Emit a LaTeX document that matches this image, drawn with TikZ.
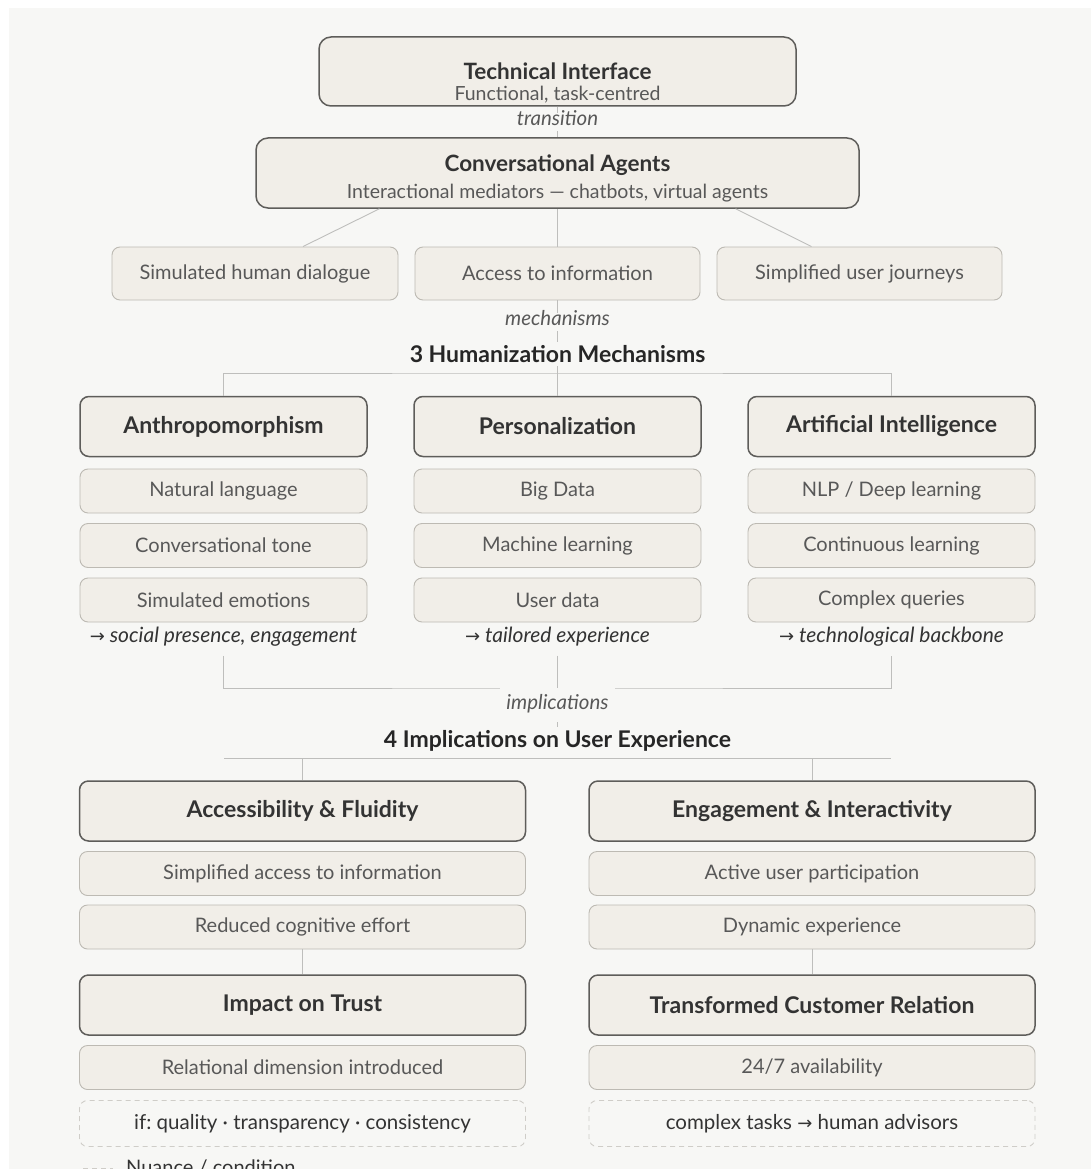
\documentclass[tikz,border=0pt]{standalone}
\usepackage{fontspec}
\setmainfont{Lato}
\newfontfamily\arrowfont{DejaVu Sans}
\usepackage{xcolor}
\usetikzlibrary{calc}
\frenchspacing

\definecolor{bgcol}{HTML}{F7F7F5}
\definecolor{boxcol}{HTML}{F1EEE8}
\definecolor{darkline}{HTML}{5E5D5A}
\definecolor{lightline}{HTML}{BDBAB3}
\definecolor{condline}{HTML}{CFCDC8}
\definecolor{connline}{HTML}{BEBEBC}
\definecolor{txt}{HTML}{333333}
\definecolor{subtxt}{HTML}{585858}

\tikzset{
  hdbox/.style={draw=darkline, line width=1.5pt, fill=boxcol, rounded corners=9pt,
    minimum height=60pt, minimum width=287pt, text=txt, font=\fontsize{23}{27}\selectfont\bfseries},
  itembox/.style={draw=lightline, line width=0.9pt, fill=boxcol, rounded corners=8pt,
    minimum height=44pt, minimum width=287pt, text=subtxt, font=\fontsize{20}{24}\selectfont},
  condbox/.style={draw=condline, dash pattern=on 5pt off 4pt, line width=0.9pt, rounded corners=8pt,
    minimum height=46pt, minimum width=446pt, text=txt, font=\fontsize{20.5}{24}\selectfont},
  toptitle/.style={text=txt, font=\fontsize{22.5}{27}\selectfont\bfseries, inner sep=0pt},
  topsub/.style={text=subtxt, font=\fontsize{19.5}{23}\selectfont, inner sep=0pt},
  note/.style={text=txt, font=\fontsize{21}{25}\selectfont\itshape, inner ysep=9pt},
  tag/.style={fill=bgcol, text=subtxt, font=\fontsize{20.5}{25}\selectfont\itshape, inner xsep=6pt,
    inner ysep=1pt, text height=12pt, text depth=4pt},
  heading/.style={text=black!85, font=\fontsize{23}{27}\selectfont\bfseries},
  conn/.style={draw=connline, line width=0.9pt},
}

\begin{document}
\begin{tikzpicture}[x=1pt,y=-1pt]

\useasboundingbox (0,0) rectangle (1091,1169);
\fill[white] (0,0) rectangle (1091,1169);
\fill[bgcol] (9,8) rectangle (1091,1169);

% Top: interface -> agents
\node[hdbox, minimum width=477pt, minimum height=69pt, rounded corners=12pt] (tech) at (557.5,71.5) {};
\node[toptitle] (techT) at (557.5,71) {Technical Interface};
\node[topsub] (techS) at (557.5,95) {Functional, task-centred};

\node[hdbox, minimum width=603pt, minimum height=70pt, rounded corners=12pt] (ca) at (557.5,173) {};
\node[toptitle] (caT) at (557.5,165) {Conversational Agents};
\node[topsub] (caS) at (557.5,193) {Interactional mediators — chatbots, virtual agents};

\draw[conn] (tech) -- node[tag, pos=0.5] (trans) {transition} (ca);

\node[itembox, minimum width=286pt, minimum height=53pt] (dlg) at (255,273.5) {Simulated human dialogue};
\node[itembox, minimum width=285pt, minimum height=53pt] (info) at (557.5,273.5) {Access to information};
\node[itembox, minimum width=285pt, minimum height=53pt] (jrn) at (859.5,273.5) {Simplified user journeys};

\draw[conn] ([xshift=-178pt]ca.south) -- ([xshift=48pt]dlg.north);
\draw[conn] (ca.south) -- (info.north);
\draw[conn] ([xshift=178pt]ca.south) -- ([xshift=-48pt]jrn.north);

% 3 mechanisms
\node[heading] (hm) at (557.5,354) {3 Humanization Mechanisms};
\draw[conn] (info) -- node[tag, pos=0.52] (mech) {mechanisms} (hm);

\node[hdbox] (anth) at (223.5,426.5) {Anthropomorphism};
\node[hdbox] (pers) at (557.5,426.5) {Personalization};
\node[hdbox] (ai) at (891.5,426.5) {Artificial Intelligence};

\coordinate (mj) at (557.5,373);
\draw[conn] (hm) -- (mj);
\draw[conn] (anth.north) |- (mj) -| (ai.north);
\draw[conn] (mj) -- (pers.north);

\node[itembox] (anth1) at (223.5,491) {Natural language};
\node[itembox] (anth2) at (223.5,545.5) {Conversational tone};
\node[itembox] (anth3) at (223.5,600) {Simulated emotions};
\node[note] (anthN) at (223.5,637) {{\upshape\arrowfont\fontsize{18}{20}\selectfont →} social presence, engagement};

\node[itembox] (pers1) at (557.5,491) {Big Data};
\node[itembox] (pers2) at (557.5,545.5) {Machine learning};
\node[itembox] (pers3) at (557.5,600) {User data};
\node[note] (persN) at (557.5,637) {{\upshape\arrowfont\fontsize{18}{20}\selectfont →} tailored experience};

\node[itembox] (ai1) at (891.5,491) {NLP / Deep learning};
\node[itembox] (ai2) at (891.5,545.5) {Continuous learning};
\node[itembox] (ai3) at (891.5,600) {Complex queries};
\node[note] (aiN) at (891.5,637) {{\upshape\arrowfont\fontsize{18}{20}\selectfont →} technological backbone};

% 4 implications
\node[heading] (im) at (557.5,741) {4 Implications on User Experience};

\coordinate (ij) at (557.5,688);
\draw[conn] (anthN.south) |- (ij) -| (aiN.south);
\draw[conn] (persN.south) -- (ij);
\draw[conn] (ij) -- (im);
\node[tag, inner ysep=9pt] (impl) at (557.5,705) {implications};

\coordinate (iL) at (224,758);
\coordinate (iR) at (891,758);
\draw[conn] (iL) -- (iR);

\node[hdbox, minimum width=446pt] (acf) at (302.5,811) {Accessibility \& Fluidity};
\node[hdbox, minimum width=446pt] (eni) at (812,811) {Engagement \& Interactivity};
\draw[conn] (acf.north |- iL) -- (acf.north);
\draw[conn] (eni.north |- iL) -- (eni.north);

\node[itembox, minimum width=446pt] (acf1) at (302.5,873.5) {Simplified access to information};
\node[itembox, minimum width=446pt] (acf2) at (302.5,927) {Reduced cognitive effort};
\node[itembox, minimum width=446pt] (eni1) at (812,873.5) {Active user participation};
\node[itembox, minimum width=446pt] (eni2) at (812,927) {Dynamic experience};

\node[hdbox, minimum width=446pt] (trust) at (302.5,1005) {Impact on Trust};
\node[hdbox, minimum width=446pt] (tcr) at (812,1005) {Transformed Customer Relation};
\draw[conn] (acf2) -- (trust);
\draw[conn] (eni2) -- (tcr);

\node[itembox, minimum width=446pt] (trust1) at (302.5,1067.5) {Relational dimension introduced};
\node[itembox, minimum width=446pt] (tcr1) at (812,1067.5) {24/7 availability};

\node[condbox] (trustC) at (302.5,1123.5) {if: quality · transparency · consistency};
\node[condbox] (tcrC) at (812,1123.5) {complex tasks {\arrowfont\fontsize{18}{20}\selectfont →} human advisors};

% legend
\draw[draw=condline, dash pattern=on 5pt off 4pt, line width=0.9pt] (83,1168) -- (113,1168);
\node[anchor=base west, inner sep=0pt, text=txt, font=\fontsize{20}{24}\selectfont] (legend) at (126,1174) {Nuance / condition};

\end{tikzpicture}
\end{document}
